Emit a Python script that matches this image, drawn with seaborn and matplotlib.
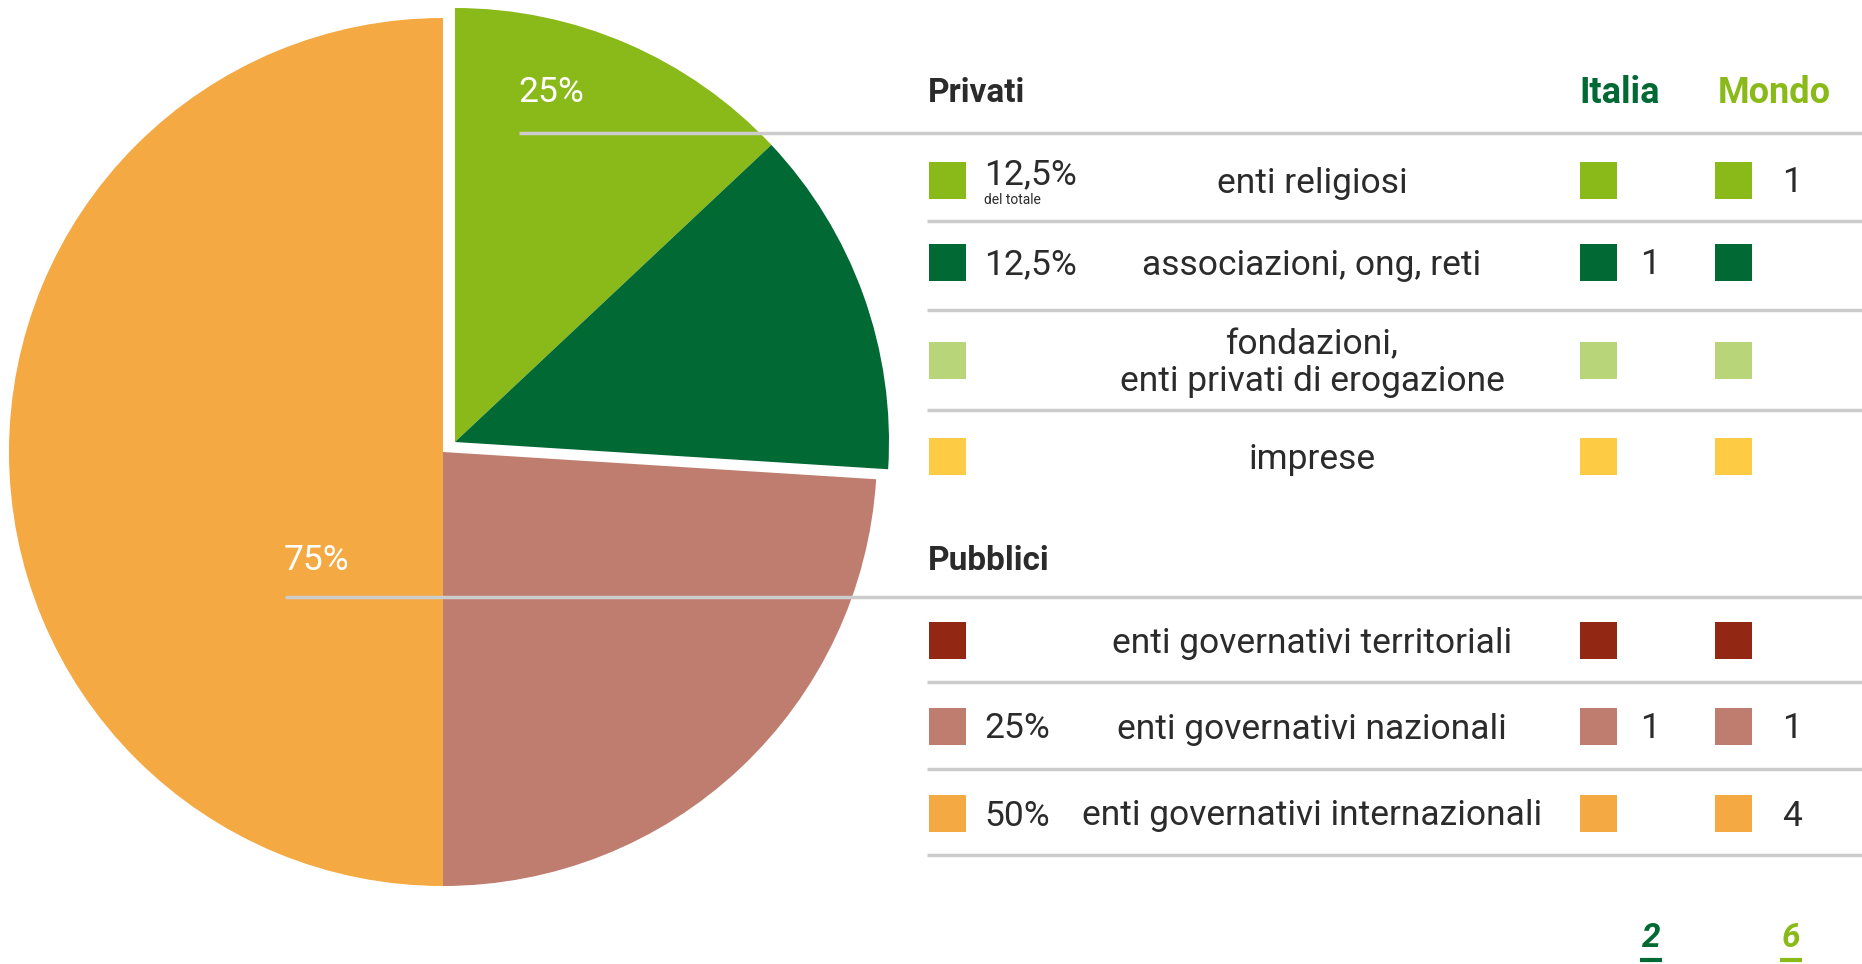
import matplotlib
matplotlib.use("Agg")
import matplotlib.pyplot as plt
import seaborn as sns
from matplotlib.patches import Rectangle
import matplotlib.font_manager as fm

# ---------------- data ----------------
pie_categories = ["enti religiosi", "associazioni, ong, reti",
                  "enti governativi nazionali", "enti governativi internazionali"]
pie_values = [13, 13, 24, 50]          # angles as drawn in the picture
pie_exploded = [True, True, False, False]

group_names = ["Privati", "Pubblici"]
group_shares = ["25%", "75%"]

categories = ["enti religiosi", "associazioni, ong, reti",
              "fondazioni,\nenti privati di erogazione", "imprese",
              "enti governativi territoriali", "enti governativi nazionali",
              "enti governativi internazionali"]
category_group = ["Privati", "Privati", "Privati", "Privati",
                  "Pubblici", "Pubblici", "Pubblici"]
category_shares = ["12,5%", "12,5%", "", "", "", "25%", "50%"]
italia_counts = [0, 1, 0, 0, 0, 1, 0]
mondo_counts = [1, 0, 0, 0, 0, 1, 4]
column_names = ["Italia", "Mondo"]

# ---------------- style ----------------
sns.set_theme(style="white")
cat_colors = dict(zip(categories, sns.color_palette(
    ["#8aba19", "#006934", "#b8d57a", "#fdcb44", "#922814", "#bf7d6f", "#f4a942"])))
col_colors = {"Italia": "#006934", "Mondo": "#8aba19"}
avail = {f.name for f in fm.fontManager.ttflist}
fam = [f for f in ["Roboto", "Liberation Sans", "DejaVu Sans"] if f in avail]
plt.rcParams["font.family"] = fam
TXT = "#2b2b2b"
SEP = "#cccccc"
FS = 25.5
DY = 3   # small downward nudge of text baselines

W, H = 1862, 964
fig = plt.figure(figsize=(W / 100, H / 100), dpi=100)
ax = fig.add_axes([0, 0, 1, 1])

def Y(y):
    return H - y

# ---------------- pie ----------------
cx, cy, r = 443, 452, 434
off = (12, -10)
wedges, _ = ax.pie(pie_values, colors=[cat_colors[c] for c in pie_categories],
                   startangle=90, counterclock=False, center=(cx, Y(cy)), radius=r,
                   wedgeprops=dict(linewidth=0))
for w, e in zip(wedges, pie_exploded):
    if e:
        w.set_center((cx + off[0], Y(cy + off[1])))
ax.set_xlim(0, W)
ax.set_ylim(0, H)
ax.set_aspect("auto")
ax.axis("off")

# group share labels on the pie
ax.text(518, Y(90 + DY), group_shares[0], color="white", fontsize=FS, va="center", ha="left")
ax.text(284, Y(558 + DY), group_shares[1], color="white", fontsize=FS, va="center", ha="left")

# ---------------- table ----------------
x_sq, sq = 929, 37
x_share = 984
x_label = 1312
x_it, x_mo = 1580, 1715
sep_x1 = 1862

header_y = {"Privati": 90, "Pubblici": 558}
header_line = {"Privati": (519, 133), "Pubblici": (285, 597)}
row_y = [180, 262, 360, 456, 640, 726, 813]
row_sep = [221, 310, 410, 682, 769, 855]

for g in group_names:
    ax.text(x_sq - 1, Y(header_y[g] + DY), g, fontsize=24, fontweight="bold", color=TXT,
            va="center", ha="left")
    x0, yl = header_line[g]
    ax.plot([x0, sep_x1], [Y(yl), Y(yl)], color=SEP, lw=2.5, solid_capstyle="butt")

ax.text(x_it - 1, Y(header_y["Privati"] + DY), column_names[0], fontsize=26, fontweight="bold",
        color=col_colors["Italia"], va="center", ha="left")
ax.text(x_mo + 3, Y(header_y["Privati"] + DY), column_names[1], fontsize=26, fontweight="bold",
        color=col_colors["Mondo"], va="center", ha="left")

for ys in row_sep:
    ax.plot([x_sq - 2, sep_x1], [Y(ys), Y(ys)], color=SEP, lw=2.5, solid_capstyle="butt")

for i, cat in enumerate(categories):
    yc = row_y[i]
    yt = yc + DY
    col = cat_colors[cat]
    for xs in (x_sq, x_it, x_mo):
        ax.add_patch(Rectangle((xs, Y(yc + sq / 2)), sq, sq, color=col, lw=0))
    if category_shares[i]:
        if i == 0:
            ax.text(x_share, Y(yt - 8), category_shares[i], fontsize=FS, color=TXT,
                    va="center", ha="left")
            ax.text(x_share, Y(yt + 17), "del totale", fontsize=10, color=TXT,
                    va="center", ha="left")
        else:
            ax.text(x_share, Y(yt), category_shares[i], fontsize=FS, color=TXT,
                    va="center", ha="left")
    ax.text(x_label, Y(yt), cat, fontsize=FS, color=TXT, va="center", ha="center",
            linespacing=1.15)
    if italia_counts[i]:
        ax.text(x_it + 70, Y(yt), str(italia_counts[i]), fontsize=FS, color=TXT,
                va="center", ha="center")
    if mondo_counts[i]:
        ax.text(x_mo + 77, Y(yt), str(mondo_counts[i]), fontsize=FS, color=TXT,
                va="center", ha="center")

# totals
tot_it = sum(italia_counts)
tot_mo = sum(mondo_counts)
for val, xc, c in [(tot_it, x_it + 71, col_colors["Italia"]), (tot_mo, x_mo + 76, col_colors["Mondo"])]:
    ax.text(xc, Y(938), str(val), fontsize=24, fontstyle="italic", fontweight="bold",
            color=c, va="center", ha="center")
    ax.plot([xc - 11, xc + 11], [Y(960), Y(960)], color=c, lw=3, solid_capstyle="butt")

fig.savefig("out.png", dpi=100, facecolor="white")
